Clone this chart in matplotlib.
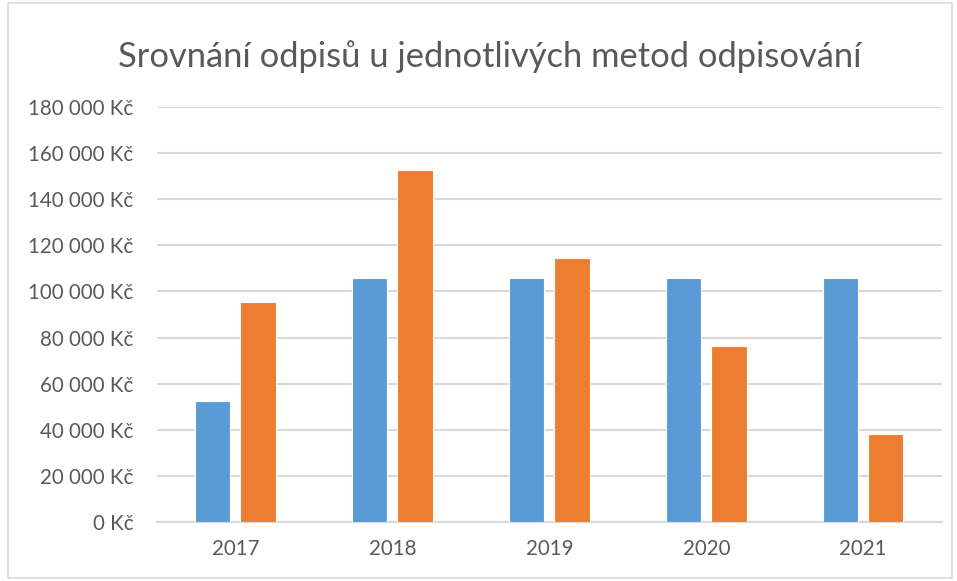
import matplotlib
matplotlib.use("Agg")
import matplotlib.pyplot as plt
from matplotlib.patches import Rectangle
import numpy as np

years = ["2017", "2018", "2019", "2020", "2021"]
rovnomerne = [52400, 106000, 106000, 106000, 106000]
zrychlene = [95300, 152500, 114400, 76300, 38100]
yticks = [0, 20000, 40000, 60000, 80000, 100000, 120000, 140000, 160000, 180000]
ytick_labels = ["0 Kč", "20 000 Kč", "40 000 Kč", "60 000 Kč", "80 000 Kč",
                "100 000 Kč", "120 000 Kč", "140 000 Kč", "160 000 Kč", "180 000 Kč"]
title = "Srovnání odpisů u jednotlivých metod odpisování"

plt.rcParams['font.family'] = ['Lato', 'DejaVu Sans']

fig = plt.figure(figsize=(9.57, 5.81), dpi=100)
ax = fig.add_axes([0.164, 0.1015, 0.82, 0.7143])

x = np.arange(len(years))
w = 0.225
off = 0.144
ax.bar(x - off, rovnomerne, width=w, color="#5B9BD5", edgecolor="white", linewidth=0.8, zorder=3)
ax.bar(x + off, zrychlene, width=w, color="#ED7D31", edgecolor="white", linewidth=0.8, zorder=3)

ax.set_xlim(-0.5, len(years) - 0.5)
ax.set_ylim(0, 180000)
ax.set_yticks(yticks)
ax.set_yticklabels(ytick_labels)
ax.set_xticks(x)
ax.set_xticklabels(years)
ax.yaxis.grid(True, color="#D9D9D9", linewidth=1.5, zorder=0)
ax.set_axisbelow(True)
for s in ["top", "right", "left"]:
    ax.spines[s].set_visible(False)
ax.spines["bottom"].set_color("#D9D9D9")
ax.spines["bottom"].set_linewidth(1.5)
ax.tick_params(axis="both", length=0, labelsize=14.8, colors="#595959")
ax.tick_params(axis="y", pad=17)
ax.tick_params(axis="x", pad=12)

fig.text(0.512, 0.902, title, ha="center", va="center", fontsize=24.8,
         color="#595959", fontweight="normal")

fig.patches.append(Rectangle((8 / 957, 3 / 581), 944 / 957, 575 / 581,
                             transform=fig.transFigure, fill=False,
                             edgecolor="#D9D9D9", linewidth=1.2))

fig.savefig("out.png", dpi=100)
